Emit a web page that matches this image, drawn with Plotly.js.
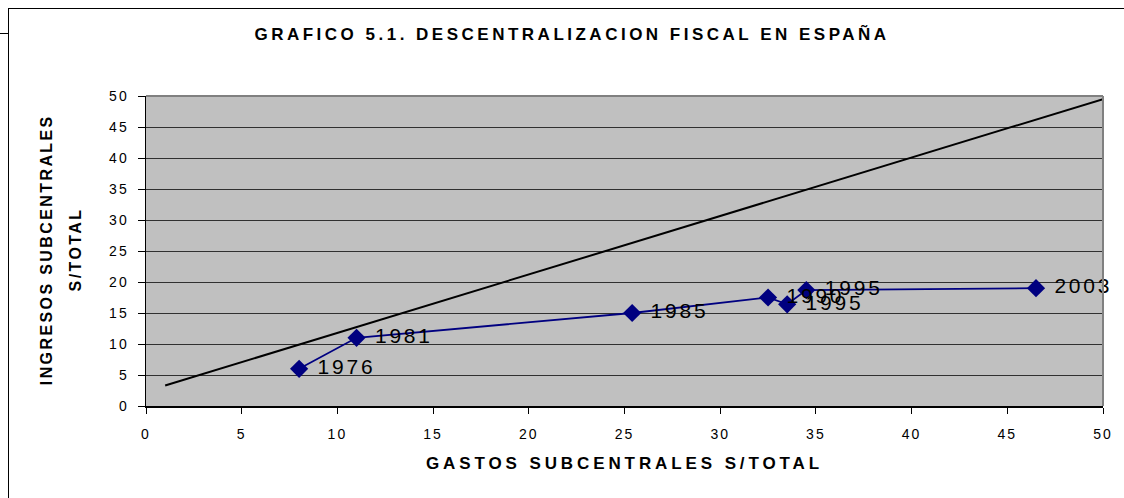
<!DOCTYPE html>
<html>
<head>
<meta charset="utf-8">
<script src="https://cdn.plot.ly/plotly-3.0.1.min.js"></script>
<style>
  html, body { margin: 0; padding: 0; background: #fff; }
  #wrap { position: relative; width: 1124px; height: 498px; overflow: hidden; }
  #chart { position: absolute; left: 0; top: 0; width: 1124px; height: 498px; }
  #frame { position: absolute; left: 8px; top: 8px; width: 1200px; height: 600px;
           border-top: 1.5px solid #000; border-left: 1.5px solid #000; pointer-events: none; }
  #stub { position: absolute; left: 0; top: 33px; width: 8px; height: 0; border-top: 1.5px solid #000; }
  .gtitle { letter-spacing: 3.5px; }
  .xtitle { letter-spacing: 3.9px; }
  .xtick text, .ytick text { letter-spacing: 2px; }
  .textpoint text { letter-spacing: 2.8px; white-space: pre; }
</style>
</head>
<body>
<div id="wrap">
  <div id="chart"></div>
  <div id="frame"></div>
  <div id="stub"></div>
</div>
<script>
// Data series: gasto subcentral (% total) vs ingreso subcentral (% total)
const years = ["1976", "1981", "1985", "1990", "1995", "1995", "2003"];
const gastos = [8.0, 11.0, 25.4, 32.5, 33.5, 34.5, 46.5];
const ingresos = [6.0, 11.0, 15.0, 17.5, 16.4, 18.7, 19.0];

// Reference (diagonal) line
const refX = [1, 50];
const refY = [3.3, 49.5];

const xTicks = [0, 5, 10, 15, 20, 25, 30, 35, 40, 45, 50];
const yTicks = [0, 5, 10, 15, 20, 25, 30, 35, 40, 45, 50];

const FONT = "Liberation Sans, Arial, Helvetica, sans-serif";

const traces = [
  {
    x: refX, y: refY, mode: "lines", type: "scatter",
    line: { color: "#000000", width: 2 },
    hoverinfo: "skip", showlegend: false
  },
  {
    x: gastos, y: ingresos, mode: "lines+markers+text", type: "scatter",
    text: years.map(function (s) { return "\u00a0" + s; }), textposition: "middle right",
    textfont: { family: FONT, size: 21, color: "#000000" },
    line: { color: "#000080", width: 1.8 },
    marker: { symbol: "diamond", size: 14, color: "#000080" },
    showlegend: false, cliponaxis: false
  }
];

const pl = 146, pr = 1103, pt = 96, pb = 406;
function px2x(p) { return (p - pl) / (pr - pl); }
function py2y(p) { return (pb - p) / (pb - pt); }

const layout = {
  width: 1124, height: 498,
  margin: { l: pl, r: 1124 - pr, t: pt, b: 498 - pb, pad: 0 },
  paper_bgcolor: "rgba(0,0,0,0)",
  plot_bgcolor: "#c0c0c0",
  font: { family: FONT, color: "#000000" },
  title: {
    text: "<b>GRAFICO 5.1. DESCENTRALIZACION FISCAL EN ESPAÑA</b>",
    font: { family: FONT, size: 17, color: "#000" },
    xref: "container", x: 572 / 1124, xanchor: "center",
    yref: "container", y: 1 - 34 / 498, yanchor: "middle"
  },
  xaxis: {
    range: [0, 50], tickvals: xTicks, ticktext: xTicks.map(String),
    showgrid: false, zeroline: false,
    showline: true, linecolor: "#000", linewidth: 1.5,
    ticks: "outside", ticklen: 6, tickcolor: "#000", tickwidth: 1,
    ticklabelstandoff: 9,
    tickfont: { family: FONT, size: 14, color: "#000" },
    title: { text: "<b>GASTOS SUBCENTRALES S/TOTAL</b>", font: { family: FONT, size: 17, color: "#000" }, standoff: 16 },
    fixedrange: true
  },
  yaxis: {
    range: [0, 50], tickvals: yTicks, ticktext: yTicks.map(String),
    showgrid: true, gridcolor: "#303030", gridwidth: 1, zeroline: false,
    showline: true, linecolor: "#000", linewidth: 1.5,
    ticks: "outside", ticklen: 7, tickcolor: "#000", tickwidth: 1,
    ticklabelstandoff: 6,
    tickfont: { family: FONT, size: 14, color: "#000" },
    fixedrange: true
  },
  shapes: [
    { type: "line", xref: "paper", yref: "paper", x0: 0, x1: 1, y0: 1, y1: 1, line: { color: "#808080", width: 2 } },
    { type: "line", xref: "paper", yref: "paper", x0: 1, x1: 1, y0: 0, y1: 1, line: { color: "#808080", width: 2 } }
  ],
  annotations: [
    { text: "<b>INGRESOS SUBCENTRALES</b>", xref: "paper", yref: "paper", x: px2x(46), y: py2y(250),
      textangle: -90, showarrow: false, xanchor: "center", yanchor: "middle",
      font: { family: FONT, size: 16, color: "#000" } },
    { text: "<b>S/TOTAL</b>", xref: "paper", yref: "paper", x: px2x(75), y: py2y(250),
      textangle: -90, showarrow: false, xanchor: "center", yanchor: "middle",
      font: { family: FONT, size: 16, color: "#000" } }
  ],
  showlegend: false
};

Plotly.newPlot("chart", traces, layout, { displayModeBar: false, staticPlot: true }).then(function () {
  document.querySelectorAll(".annotation-text").forEach(function (t) { t.style.letterSpacing = "2.4px"; });
});
</script>
</body>
</html>
